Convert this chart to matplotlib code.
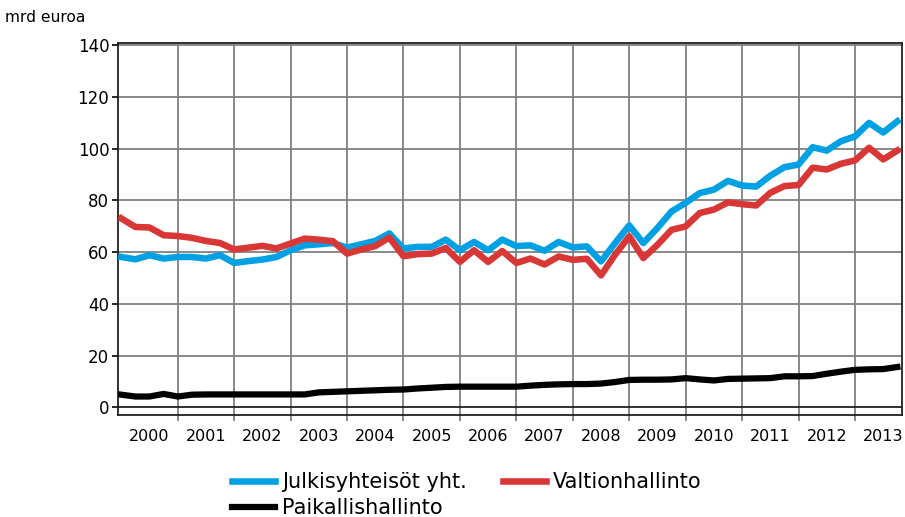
import matplotlib.pyplot as plt
import numpy as np

plt.rcParams['font.family'] = ['DejaVu Sans']

# quarterly values 2000Q1 .. 2013Q4, mrd euroa
julkis = [58.1, 57.2, 58.8, 57.5, 58.1, 58.1, 57.5, 58.8,
          55.8, 56.5, 57.1, 58.1, 60.7, 62.6, 63.0, 63.5,
          61.7, 63.0, 64.3, 67.2, 61.4, 62.0, 62.0, 64.8,
          60.7, 63.9, 60.7, 64.8, 62.3, 62.6, 60.5, 63.9,
          61.8, 62.2, 56.4, 63.5, 70.3, 63.5, 69.3, 75.7,
          79.0, 82.8, 84.1, 87.5, 85.7, 85.3, 89.5, 92.8,
          93.8, 100.5, 99.2, 102.8, 104.7, 109.9, 106.2, 110.5]
valtio = [73.0, 69.7, 69.5, 66.5, 66.2, 65.5, 64.3, 63.5,
          61.0, 61.7, 62.4, 61.4, 63.3, 65.2, 64.8, 64.2,
          59.4, 61.0, 62.3, 65.6, 58.4, 59.2, 59.4, 61.6,
          56.2, 60.7, 56.2, 60.4, 55.8, 57.5, 55.2, 58.3,
          57.0, 57.4, 51.0, 59.0, 66.1, 57.7, 62.8, 68.6,
          69.9, 75.1, 76.4, 79.2, 78.5, 78.0, 82.9, 85.5,
          85.9, 92.6, 91.9, 94.1, 95.4, 100.3, 95.8, 99.2]
paikal = [4.9, 4.2, 4.2, 5.2, 4.2, 4.9, 5.0, 5.0,
          5.0, 5.0, 5.0, 5.0, 5.0, 5.0, 5.8, 6.0,
          6.2, 6.4, 6.6, 6.8, 6.9, 7.3, 7.6, 7.9,
          8.0, 8.0, 8.0, 8.0, 8.0, 8.4, 8.7, 8.9,
          9.0, 9.0, 9.2, 9.8, 10.6, 10.7, 10.7, 10.8,
          11.3, 10.8, 10.4, 11.0, 11.1, 11.2, 11.3, 12.0,
          12.0, 12.1, 13.0, 13.8, 14.5, 14.7, 14.8, 15.6]
years = list(range(2000, 2014))
labels = ["Julkisyhteisöt yht.", "Valtionhallinto", "Paikallishallinto"]

x = 2000 + np.arange(len(julkis)) / 4.0

fig = plt.figure(figsize=(9.05, 5.17), dpi=100)
ax = fig.add_axes([0.130, 0.197, 0.867, 0.720])

grid_c = '#808080'
for yr in years[1:]:
    ax.axvline(yr, color=grid_c, lw=1.3, zorder=1)
for v in range(20, 141, 20):
    ax.axhline(v, color=grid_c, lw=1.3, zorder=1)
ax.axhline(0, color='#202020', lw=1.3, zorder=1)

l1, = ax.plot(x, julkis, color='#00a0e4', lw=4.7, label=labels[0], zorder=3)
l2, = ax.plot(x, valtio, color='#d93636', lw=4.7, label=labels[1], zorder=3)
l3, = ax.plot(x, paikal, color='#000000', lw=4.5, label=labels[2], zorder=3)

ax.set_xlim(1999.936, 2013.838)
ax.set_ylim(-3, 140.8)

ax.set_yticks(range(0, 141, 20))
ax.set_xticks(years[1:])
ax.set_xticklabels([])
ax.set_xticks([y + 0.5 for y in years], minor=True)
ax.set_xticklabels([str(y) for y in years], minor=True)
ax.tick_params(axis='x', which='major', direction='out', length=4, color=grid_c, width=1.3)
ax.tick_params(axis='x', which='minor', length=0, pad=10, labelsize=11.5)
ax.tick_params(axis='y', direction='out', length=4, width=1.2, pad=2, labelsize=12)

for s in ax.spines.values():
    s.set_color('#202020')
    s.set_linewidth(1.3)

fig.text(5 / 905, 1 - 18 / 517, "mrd euroa", fontsize=11.2, va='center', ha='left')

leg = fig.legend(handles=[l1, l3, l2], ncol=2, loc='upper left',
                 bbox_to_anchor=(0.256, 0.087), bbox_transform=fig.transFigure,
                 frameon=False, fontsize=15, handlelength=2.07, handletextpad=0.33,
                 columnspacing=1.75, labelspacing=0.3, borderpad=0, borderaxespad=0)

fig.savefig('out.png', dpi=100)
